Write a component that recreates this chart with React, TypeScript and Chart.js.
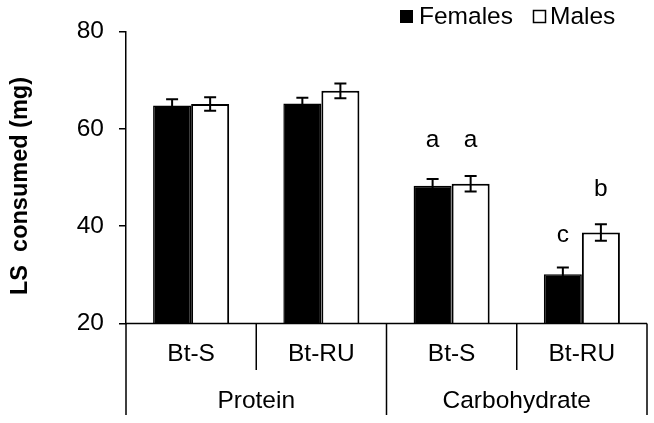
import React, { useEffect, useRef } from 'react';
import { Chart, registerables } from 'chart.js';
Chart.register(...registerables);

const subCategories = ['Bt-S', 'Bt-RU', 'Bt-S', 'Bt-RU'];
const groups = ['Protein', 'Carbohydrate'];
const seriesNames = ['Females', 'Males'];
const females = [64.8, 65.2, 48.3, 30.1];
const males = [65.1, 67.8, 48.7, 38.7];
const femaleErr = [1.3, 1.2, 1.4, 1.4];
const maleErr = [1.4, 1.5, 1.6, 1.7];
const femaleLetters = ['', '', 'a', 'c'];
const maleLetters = ['', '', 'a', 'b'];
const femaleLetterAt = [0, 0, 57.7, 38.2];
const maleLetterAt = [0, 0, 57.7, 47.6];
const yMin = 20;
const yMax = 80;
const yStep = 20;
const yTitle = 'LS  consumed (mg)';

const FONT = 'Arial, "Liberation Sans", sans-serif';
const FS = 24.5;

const customPlugin = {
  id: 'custom',
  afterDatasetsDraw(chart: any) {
    const ctx = chart.ctx;
    const y = chart.scales.y;
    const errs = [femaleErr, maleErr];
    const letters = [femaleLetters, maleLetters];
    const letterAt = [femaleLetterAt, maleLetterAt];
    ctx.save();
    ctx.strokeStyle = '#000';
    ctx.lineWidth = 2;
    for (let d = 0; d < 2; d++) {
      const meta = chart.getDatasetMeta(d);
      const vals = chart.data.datasets[d].data as number[];
      meta.data.forEach((el: any, i: number) => {
        const cx = el.x;
        const top = y.getPixelForValue(vals[i] + errs[d][i]);
        const bot = y.getPixelForValue(vals[i] - errs[d][i]);
        ctx.beginPath();
        ctx.moveTo(cx, top);
        ctx.lineTo(cx, bot);
        ctx.moveTo(cx - 6, top);
        ctx.lineTo(cx + 6, top);
        ctx.moveTo(cx - 6, bot);
        ctx.lineTo(cx + 6, bot);
        ctx.stroke();
        if (letters[d][i]) {
          ctx.fillStyle = '#000';
          ctx.font = `${FS}px ${FONT}`;
          ctx.textAlign = 'center';
          ctx.textBaseline = 'middle';
          ctx.fillText(letters[d][i], cx, y.getPixelForValue(letterAt[d][i]));
        }
      });
    }
    ctx.restore();
  },
  afterDraw(chart: any) {
    const ctx = chart.ctx;
    const x = chart.scales.x;
    const area = chart.chartArea;
    const left = area.left;
    const right = area.right;
    const bottom = area.bottom;
    const n = subCategories.length;
    const w = (right - left) / n;
    ctx.save();
    ctx.strokeStyle = '#000';
    ctx.lineWidth = 1.5;
    ctx.beginPath();
    ctx.moveTo(left, bottom);
    ctx.lineTo(right, bottom);
    for (let g = 0; g <= groups.length; g++) {
      const gx = left + g * 2 * w;
      ctx.moveTo(gx, bottom);
      ctx.lineTo(gx, 415);
    }
    for (let g = 0; g < groups.length; g++) {
      const sx = left + (g * 2 + 1) * w;
      ctx.moveTo(sx, bottom);
      ctx.lineTo(sx, 370);
    }
    ctx.stroke();

    ctx.fillStyle = '#000';
    ctx.font = `${FS}px ${FONT}`;
    ctx.textAlign = 'center';
    ctx.textBaseline = 'middle';
    subCategories.forEach((s, i) => {
      ctx.fillText(s, x.getPixelForValue(i), 354);
    });
    groups.forEach((g, i) => {
      ctx.fillText(g, left + (i * 2 + 1) * w, 401);
    });

    ctx.save();
    ctx.translate(21, 186);
    ctx.rotate(-Math.PI / 2);
    ctx.font = `bold 23.5px ${FONT}`;
    ctx.fillText(yTitle, 0, 0);
    ctx.restore();

    ctx.textAlign = 'left';
    ctx.font = `${FS}px ${FONT}`;
    ctx.fillStyle = '#000';
    ctx.fillRect(400, 10, 13, 13);
    ctx.fillText(seriesNames[0], 419, 17);
    ctx.fillStyle = '#fff';
    ctx.fillRect(533, 10, 12, 13);
    ctx.lineWidth = 1.5;
    ctx.strokeRect(533.5, 10.5, 12, 12);
    ctx.fillStyle = '#000';
    ctx.fillText(seriesNames[1], 550, 17);
    ctx.restore();
  },
};

export default function App() {
  const ref = useRef<HTMLCanvasElement>(null);
  useEffect(() => {
    if (!ref.current) return;
    const chart = new Chart(ref.current, {
      type: 'bar',
      data: {
        labels: subCategories,
        datasets: [
          {
            label: seriesNames[0],
            data: females,
            backgroundColor: '#000',
            borderColor: '#000',
            borderWidth: 1.5,
            barPercentage: 1,
            categoryPercentage: 0.584,
          },
          {
            label: seriesNames[1],
            data: males,
            backgroundColor: '#fff',
            borderColor: '#000',
            borderWidth: 2,
            barPercentage: 1,
            categoryPercentage: 0.584,
          },
        ],
      },
      options: {
        responsive: false,
        animation: false,
        layout: { padding: { top: 31.5, right: 7, bottom: 99.5, left: 0 } },
        plugins: { legend: { display: false }, tooltip: { enabled: false } },
        scales: {
          x: { display: false, offset: true },
          y: {
            min: yMin,
            max: yMax,
            ticks: {
              stepSize: yStep,
              color: '#000',
              font: { family: FONT, size: FS },
              padding: 15,
            },
            grid: {
              display: true,
              drawOnChartArea: false,
              drawTicks: true,
              tickLength: 7,
              color: '#000',
              lineWidth: 1.5,
            },
            border: { display: true, color: '#000', width: 1.5 },
            afterFit(scale: any) {
              scale.width = 126;
            },
          },
        },
      },
      plugins: [customPlugin],
    });
    return () => chart.destroy();
  }, []);
  return (
    <div style={{ position: 'absolute', left: 0, top: 0, width: 654, height: 423, background: '#fff' }}>
      <canvas ref={ref} width={654} height={423} />
    </div>
  );
}
